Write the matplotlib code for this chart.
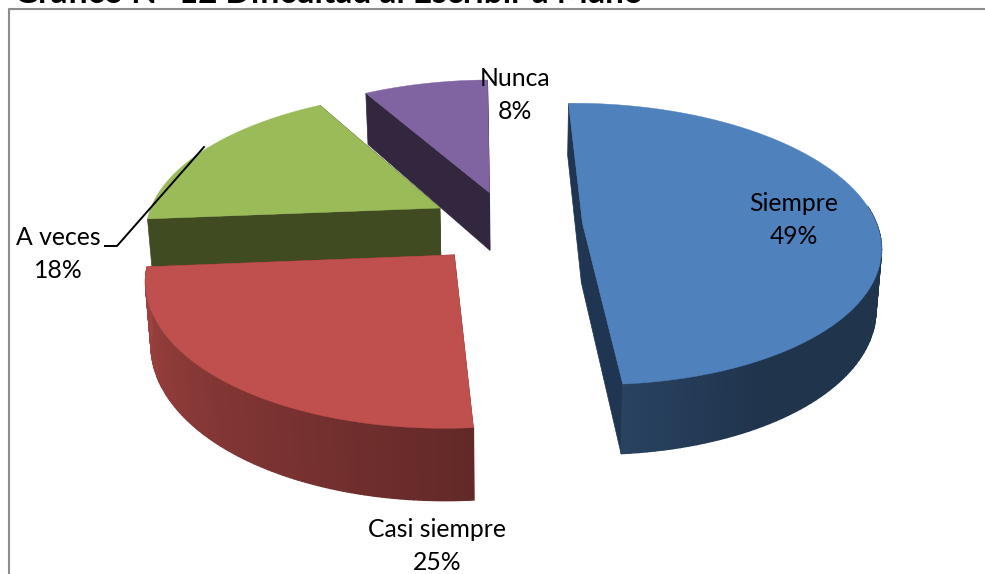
import numpy as np
import matplotlib
matplotlib.use("Agg")
import matplotlib.pyplot as plt

labels = ["Siempre", "Casi siempre", "A veces", "Nunca"]
values = [49, 25, 18, 8]

top_colors = ["#4F81BD", "#C0504D", "#9BBB59", "#8064A2"]
cut_colors = ["#1F3552", "#7A3330", "#404B22", "#32273F"]
explode = [0.252, 0.275, 0.268, 0.25]
label_pos = [(794, 220), (437, 546), (58, 254), (515, 95)]

# perspective fitted to the picture
X0, Y0 = 508.5, 225.0
RX, RY = 294.5, 138.2
PERSP = 0.147
START = -1.0
DEPTH = 59.5
BOTTOM_SHRINK = 0.985


def project(x, y, bottom=False):
    s = 1 / (1 + PERSP * y)
    px = RX * x * s
    py = Y0 - RY * y * s
    if bottom:
        return X0 + px * BOTTOM_SHRINK, py + DEPTH * s
    return X0 + px, py


def rgb_scaled(color, f):
    return tuple(c * f for c in matplotlib.colors.to_rgb(color))


fig = plt.figure(figsize=(9.85, 5.74), dpi=100)
ax = fig.add_axes([0, 0, 1, 1])
ax.set_xlim(0, 985)
ax.set_ylim(574, 0)
ax.axis("off")

# chart frame, only left and top show in the crop
ax.plot([8.5, 8.5, 985], [574, 8.5, 8.5], color="#8C8C8C", lw=1.5, zorder=1)
ax.text(14, 3, "Gráfico N° 12 Dificultad al Escribir a Mano", fontsize=24,
        fontweight="bold", family="Lato", va="baseline", ha="left", color="black")

edges = START + np.concatenate([[0], np.cumsum(values)]) / sum(values) * 360
draw_order = [3, 2, 0, 1]

for i in draw_order:
    t = np.radians(np.linspace(edges[i], edges[i + 1], 121))
    mid = np.radians((edges[i] + edges[i + 1]) / 2)
    ox, oy = explode[i] * np.sin(mid), explode[i] * np.cos(mid)
    arc_x = ox + np.sin(t)
    arc_y = oy + np.cos(t)
    z = 3 + draw_order.index(i)

    # cut faces
    for ex, ey in [(arc_x[0], arc_y[0]), (arc_x[-1], arc_y[-1])]:
        tx, ty = project(np.array([ox, ex]), np.array([oy, ey]))
        bx, by = project(np.array([ox, ex]), np.array([oy, ey]), bottom=True)
        ax.fill(np.r_[tx, bx[::-1]], np.r_[ty, by[::-1]], color=cut_colors[i], lw=0.5, zorder=z)

    # outer wall, only the part turned to the viewer, in strips for the shading
    tx, ty = project(arc_x, arc_y)
    bx, by = project(arc_x, arc_y, bottom=True)
    shade = np.interp(np.degrees(t), [150, 172, 262], [0.40, 0.50, 0.82])
    for j in range(len(t) - 1):
        if np.cos(t[j]) > 0.15 or np.degrees(t[j]) > 265:
            continue
        ax.fill([tx[j], tx[j + 1], bx[j + 1], bx[j]], [ty[j], ty[j + 1], by[j + 1], by[j]],
                color=rgb_scaled(top_colors[i], (shade[j] + shade[j + 1]) / 2), lw=1.0, zorder=z)

    # top face
    cx, cy = project(ox, oy)
    ax.fill(np.r_[cx, tx], np.r_[cy, ty], color=top_colors[i], lw=0.3, zorder=z)

# leader line of A veces
ax.plot([204, 117, 105], [147, 246, 246], color="black", lw=1.4, zorder=20)

for name, val, (x, y) in zip(labels, values, label_pos):
    ax.text(x, y, f"{name}\n{val}%", ha="center", va="center", fontsize=17.8, family="Lato",
            linespacing=1.48, color="black", zorder=21)

fig.savefig("out.png", dpi=100)
